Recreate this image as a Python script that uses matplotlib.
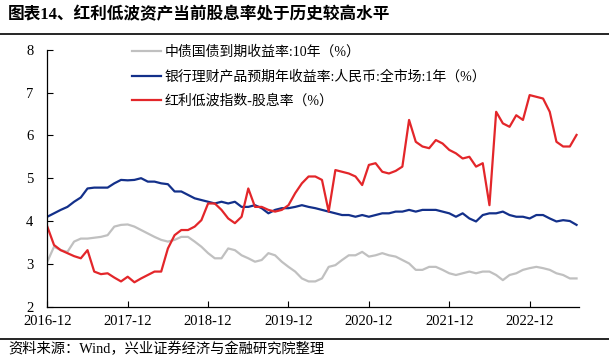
import matplotlib
matplotlib.use("Agg")
import matplotlib.pyplot as plt
from matplotlib.lines import Line2D
import numpy as np

# monthly readings, 2016-12 .. 2023-07
tick_labels = ['2016-12', '2017-12', '2018-12', '2019-12', '2020-12', '2021-12', '2022-12']

bond_10y = [3.05, 3.40, 3.32, 3.28, 3.52, 3.59, 3.59, 3.61, 3.63, 3.67,
            3.87, 3.91, 3.92, 3.87, 3.79, 3.71, 3.63, 3.56, 3.52, 3.56,
            3.63, 3.63, 3.52, 3.40, 3.25, 3.13, 3.13, 3.36, 3.32, 3.20,
            3.13, 3.05, 3.09, 3.25, 3.20, 3.05, 2.93, 2.82, 2.66, 2.59,
            2.59, 2.66, 2.93, 2.97, 3.09, 3.20, 3.20, 3.28, 3.17, 3.20,
            3.25, 3.20, 3.17, 3.09, 3.01, 2.86, 2.86, 2.93, 2.93, 2.86,
            2.78, 2.74, 2.78, 2.82, 2.78, 2.82, 2.82, 2.74, 2.62, 2.74,
            2.78, 2.86, 2.90, 2.93, 2.90, 2.86, 2.78, 2.74, 2.66, 2.66]

wmp_1y = [4.10, 4.18, 4.26, 4.33, 4.45, 4.55, 4.76, 4.78, 4.78, 4.78,
          4.88, 4.96, 4.95, 4.96, 5.00, 4.92, 4.92, 4.88, 4.86, 4.69,
          4.69, 4.61, 4.53, 4.49, 4.45, 4.41, 4.45, 4.41, 4.45, 4.33,
          4.33, 4.37, 4.30, 4.18, 4.26, 4.30, 4.30, 4.33, 4.37, 4.33,
          4.30, 4.26, 4.22, 4.18, 4.14, 4.14, 4.10, 4.14, 4.10, 4.14,
          4.18, 4.18, 4.22, 4.22, 4.26, 4.22, 4.26, 4.26, 4.26, 4.22,
          4.18, 4.10, 4.18, 4.06, 3.99, 4.14, 4.18, 4.18, 4.22, 4.14,
          4.10, 4.10, 4.06, 4.14, 4.14, 4.06, 3.99, 4.02, 4.00, 3.91]

div_yield = [3.87, 3.44, 3.32, 3.25, 3.18, 3.13, 3.32, 2.82, 2.76, 2.78,
             2.68, 2.59, 2.70, 2.57, 2.66, 2.74, 2.82, 2.82, 3.36, 3.67,
             3.79, 3.79, 3.87, 4.02, 4.41, 4.41, 4.26, 4.06, 3.95, 4.10,
             4.76, 4.33, 4.33, 4.26, 4.22, 4.26, 4.37, 4.65, 4.88, 5.04,
             5.04, 4.96, 4.22, 5.19, 5.15, 5.11, 5.04, 4.84, 5.31, 5.35,
             5.15, 5.11, 5.17, 5.27, 6.36, 5.85, 5.74, 5.70, 5.89, 5.81,
             5.66, 5.58, 5.46, 5.50, 5.27, 5.35, 4.37, 6.55, 6.28, 6.20,
             6.47, 6.36, 6.94, 6.90, 6.86, 6.55, 5.85, 5.74, 5.74, 6.01]

names = ['中债国债到期收益率:10年（%）',
         '银行理财产品预期年收益率:人民币:全市场:1年（%）',
         '红利低波指数-股息率（%）']

fam = ['Liberation Serif', 'Noto Sans CJK SC', 'DejaVu Sans']
plt.rcParams['font.family'] = fam

fig = plt.figure(figsize=(6.09, 3.58), dpi=100)
ax = fig.add_axes([0.0777, 0.1433, 0.8723, 0.7179])

x = np.arange(len(div_yield))
ax.plot(x, bond_10y, color='#C0C0C0', lw=1.6, label=names[0])
ax.plot(x, wmp_1y, color='#13308A', lw=1.6, label=names[1])
ax.plot(x, div_yield, color='#E3262A', lw=1.6, label=names[2])

ax.set_xlim(0, 79.3)
ax.set_ylim(2, 8)
ax.set_xticks(np.arange(0, 73, 12))
ax.set_xticklabels(tick_labels)
ax.set_yticks(range(2, 9))
ax.tick_params(direction='in', length=4, width=0.8, labelsize=10.5, colors='black')
ax.tick_params(axis='x', pad=6)
ax.tick_params(axis='y', pad=10)
for s in ['top', 'right']:
    ax.spines[s].set_visible(False)
for s in ['left', 'bottom']:
    ax.spines[s].set_linewidth(0.9)

leg = ax.legend(loc='upper left', bbox_to_anchor=(0.135, 1.067), frameon=False,
                fontsize=10, handlelength=2.1, handletextpad=0.3, labelspacing=0.8)

fig.text(0.013, 0.957, '图表14、红利低波资产当前股息率处于历史较高水平',
         fontsize=12, fontweight='bold', va='center', ha='left')
fig.add_artist(Line2D([0, 1], [1 - 34 / 358, 1 - 34 / 358], color='black', lw=1.2))
fig.add_artist(Line2D([0, 1], [1 - 339 / 358, 1 - 339 / 358], color='black', lw=1.2))
fig.text(0.013, 1 - 349 / 358, '资料来源：Wind，兴业证券经济与金融研究院整理',
         fontsize=10.3, va='center', ha='left')

fig.savefig('out.png', dpi=100)
